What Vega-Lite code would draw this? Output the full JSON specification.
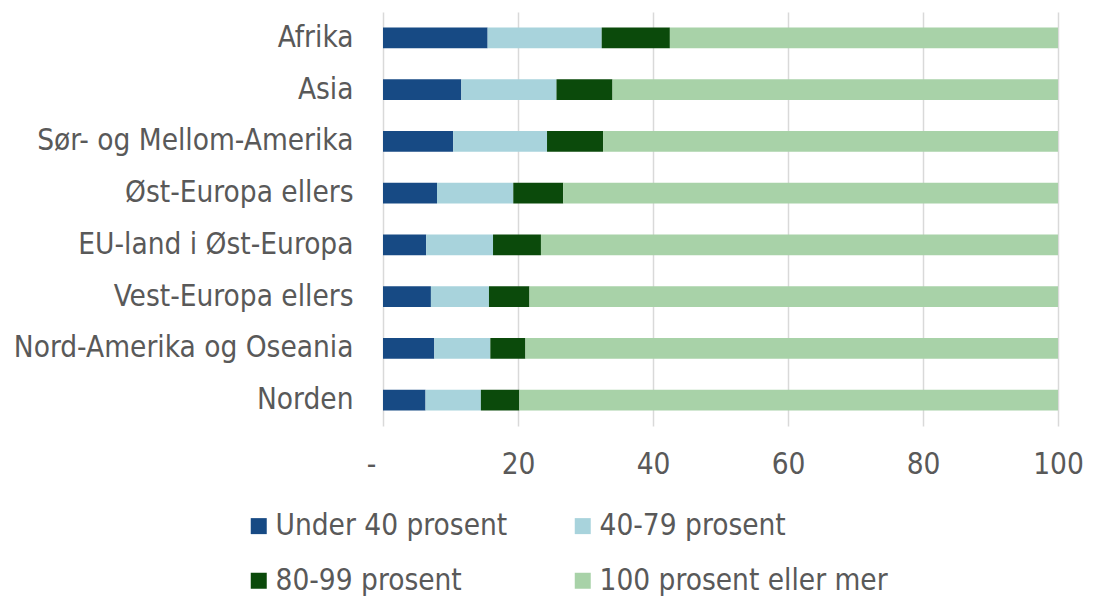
{
  "$schema": "https://vega.github.io/schema/vega-lite/v6.json",
  "width": 675,
  "height": 414,
  "autosize": {"type": "none"},
  "padding": {"left": 383, "top": 12, "right": 36, "bottom": 170},
  "background": "white",
  "config": {
    "view": {"stroke": null},
    "font": "DejaVu Sans Condensed",
    "axis": {"labelFont": "DejaVu Sans Condensed", "labelColor": "#595959"},
    "legend": {"labelFont": "DejaVu Sans Condensed", "labelColor": "#595959"}
  },
  "data": {
    "values": [
      {"region": "Afrika", "kategori": "Under 40 prosent", "rekkefolge": 1, "verdi": 15.5},
      {"region": "Afrika", "kategori": "40-79 prosent", "rekkefolge": 2, "verdi": 16.9},
      {"region": "Afrika", "kategori": "80-99 prosent", "rekkefolge": 3, "verdi": 10.1},
      {"region": "Afrika", "kategori": "100 prosent eller mer", "rekkefolge": 4, "verdi": 57.5},
      {"region": "Asia", "kategori": "Under 40 prosent", "rekkefolge": 1, "verdi": 11.6},
      {"region": "Asia", "kategori": "40-79 prosent", "rekkefolge": 2, "verdi": 14.1},
      {"region": "Asia", "kategori": "80-99 prosent", "rekkefolge": 3, "verdi": 8.3},
      {"region": "Asia", "kategori": "100 prosent eller mer", "rekkefolge": 4, "verdi": 66.0},
      {"region": "Sør- og Mellom-Amerika", "kategori": "Under 40 prosent", "rekkefolge": 1, "verdi": 10.4},
      {"region": "Sør- og Mellom-Amerika", "kategori": "40-79 prosent", "rekkefolge": 2, "verdi": 13.9},
      {"region": "Sør- og Mellom-Amerika", "kategori": "80-99 prosent", "rekkefolge": 3, "verdi": 8.3},
      {"region": "Sør- og Mellom-Amerika", "kategori": "100 prosent eller mer", "rekkefolge": 4, "verdi": 67.4},
      {"region": "Øst-Europa ellers", "kategori": "Under 40 prosent", "rekkefolge": 1, "verdi": 8.0},
      {"region": "Øst-Europa ellers", "kategori": "40-79 prosent", "rekkefolge": 2, "verdi": 11.3},
      {"region": "Øst-Europa ellers", "kategori": "80-99 prosent", "rekkefolge": 3, "verdi": 7.4},
      {"region": "Øst-Europa ellers", "kategori": "100 prosent eller mer", "rekkefolge": 4, "verdi": 73.3},
      {"region": "EU-land i Øst-Europa", "kategori": "Under 40 prosent", "rekkefolge": 1, "verdi": 6.4},
      {"region": "EU-land i Øst-Europa", "kategori": "40-79 prosent", "rekkefolge": 2, "verdi": 9.9},
      {"region": "EU-land i Øst-Europa", "kategori": "80-99 prosent", "rekkefolge": 3, "verdi": 7.1},
      {"region": "EU-land i Øst-Europa", "kategori": "100 prosent eller mer", "rekkefolge": 4, "verdi": 76.6},
      {"region": "Vest-Europa ellers", "kategori": "Under 40 prosent", "rekkefolge": 1, "verdi": 7.1},
      {"region": "Vest-Europa ellers", "kategori": "40-79 prosent", "rekkefolge": 2, "verdi": 8.6},
      {"region": "Vest-Europa ellers", "kategori": "80-99 prosent", "rekkefolge": 3, "verdi": 6.0},
      {"region": "Vest-Europa ellers", "kategori": "100 prosent eller mer", "rekkefolge": 4, "verdi": 78.3},
      {"region": "Nord-Amerika og Oseania", "kategori": "Under 40 prosent", "rekkefolge": 1, "verdi": 7.6},
      {"region": "Nord-Amerika og Oseania", "kategori": "40-79 prosent", "rekkefolge": 2, "verdi": 8.3},
      {"region": "Nord-Amerika og Oseania", "kategori": "80-99 prosent", "rekkefolge": 3, "verdi": 5.2},
      {"region": "Nord-Amerika og Oseania", "kategori": "100 prosent eller mer", "rekkefolge": 4, "verdi": 78.9},
      {"region": "Norden", "kategori": "Under 40 prosent", "rekkefolge": 1, "verdi": 6.3},
      {"region": "Norden", "kategori": "40-79 prosent", "rekkefolge": 2, "verdi": 8.2},
      {"region": "Norden", "kategori": "80-99 prosent", "rekkefolge": 3, "verdi": 5.7},
      {"region": "Norden", "kategori": "100 prosent eller mer", "rekkefolge": 4, "verdi": 79.8}
    ]
  },
  "mark": {"type": "bar"},
  "encoding": {
    "y": {
      "field": "region",
      "type": "nominal",
      "sort": ["Afrika", "Asia", "Sør- og Mellom-Amerika", "Øst-Europa ellers", "EU-land i Øst-Europa", "Vest-Europa ellers", "Nord-Amerika og Oseania", "Norden"],
      "scale": {"paddingInner": 0.6, "paddingOuter": 0.3},
      "axis": {"title": null, "domain": false, "ticks": false, "labelFontSize": 29.5, "labelPadding": 30, "labelLimit": 400}
    },
    "x": {
      "field": "verdi",
      "type": "quantitative",
      "stack": "zero",
      "scale": {"domain": [0, 100], "nice": false},
      "axis": {
        "title": null,
        "values": [0, 20, 40, 60, 80, 100],
        "domain": false,
        "ticks": false,
        "grid": true,
        "gridColor": "#d9d9d9",
        "gridWidth": 1.5,
        "labelFontSize": 29.5,
        "labelPadding": 24,
        "labelFlush": false,
        "labelOffset": {"condition": {"test": "datum.value == 0", "value": -12}, "value": 0},
        "labelExpr": "datum.value == 0 ? '-' : datum.label"
      }
    },
    "color": {
      "field": "kategori",
      "type": "nominal",
      "sort": ["Under 40 prosent", "40-79 prosent", "80-99 prosent", "100 prosent eller mer"],
      "scale": {
        "domain": ["Under 40 prosent", "40-79 prosent", "80-99 prosent", "100 prosent eller mer"],
        "range": ["#174a84", "#a8d3dc", "#0b4a0b", "#a8d2a8"]
      },
      "legend": {
        "title": null,
        "orient": "none",
        "legendX": -139,
        "legendY": 499,
        "columns": 2,
        "direction": "horizontal",
        "symbolType": "square",
        "symbolSize": 256,
        "symbolStrokeWidth": 0,
        "labelFontSize": 29.5,
        "labelLimit": 500,
        "labelOffset": 2,
        "columnPadding": 60,
        "rowPadding": 24
      }
    },
    "order": {"field": "rekkefolge", "type": "quantitative"}
  }
}
